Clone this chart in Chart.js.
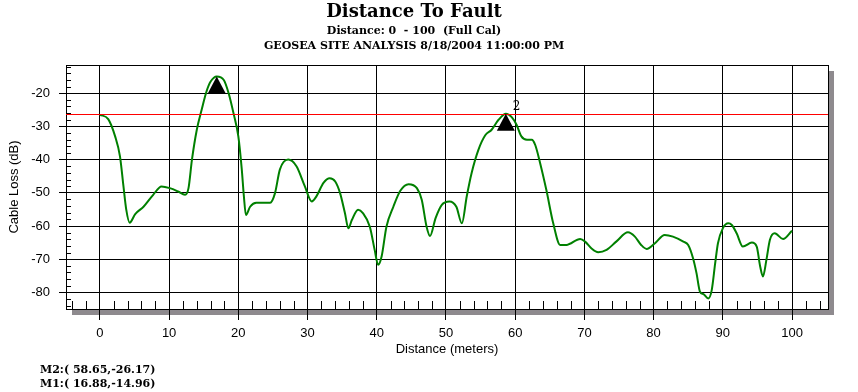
<!DOCTYPE html>
<html>
<head>
<meta charset="utf-8">
<title>Distance To Fault</title>
<script src="https://cdn.jsdelivr.net/npm/chart.js@4.4.1/dist/chart.umd.min.js"></script>
<style>
  html, body { margin: 0; padding: 0; background: #fff; }
  canvas { display: block; }
</style>
</head>
<body>
<canvas id="dtf" width="858" height="392"></canvas>
<script>
// trace (distance in m, loss in dB)
var distance = [0, 1.2, 2.2, 2.9, 3.4, 3.8, 4.3, 5.1, 6.3, 7.7, 8.9, 10.1, 11.3, 12.3, 12.8, 13.3, 14.0, 14.7, 15.4, 16.0, 16.88, 17.9, 18.6, 19.3, 20.0, 20.5, 20.8, 21.1, 21.7, 22.6, 24.6, 25.3, 26.0, 27.2, 28.4, 29.6, 30.6, 31.3, 32.3, 33.2, 34.0, 34.7, 35.4, 35.9, 36.4, 37.3, 38.0, 39.0, 39.7, 40.2, 40.7, 41.4, 42.4, 43.4, 44.6, 45.8, 46.5, 47.2, 47.7, 48.5, 49.4, 50.5, 51.5, 52.3, 53.0, 53.7, 54.7, 55.7, 56.6, 57.6, 58.65, 59.5, 60.2, 60.9, 61.7, 62.4, 62.9, 63.6, 64.5, 65.5, 66.5, 67.4, 69.4, 70.1, 71.0, 72.0, 73.2, 74.6, 76.3, 77.3, 78.2, 79.0, 80.2, 81.6, 82.8, 84.3, 85.0, 85.7, 86.2, 86.7, 87.2, 87.9, 88.4, 88.9, 89.3, 90.0, 90.8, 91.3, 92.0, 92.9, 94.2, 94.9, 95.4, 95.8, 96.3, 96.8, 97.5, 98.7, 100];
var cableLoss = [-26.5, -27.8, -33, -39, -48, -55, -59, -56.4, -54.2, -50.6, -48.1, -48.6, -49.6, -50.6, -48.6, -40, -31, -25, -19.5, -16.5, -14.96, -16, -20, -26, -33, -43, -51, -56.7, -54.2, -53, -53, -50.1, -43, -40, -42, -48, -52.6, -51, -47, -45.6, -46.6, -50.1, -56.1, -60.7, -58.2, -55.1, -56.1, -60.2, -67.2, -71.7, -69.2, -60.2, -54.2, -49.4, -47.4, -48.6, -52.1, -60.2, -63, -57.6, -53.6, -52.6, -54.2, -59.2, -51.1, -44.1, -37, -32.6, -31, -28, -26.17, -27.2, -29.5, -33, -34, -34, -35.6, -41, -49.1, -59.2, -65.7, -65.7, -63.9, -64.7, -66.7, -67.9, -67.2, -64.7, -61.9, -63.2, -65.7, -66.9, -65.2, -62.7, -63.2, -64.7, -65.7, -69.7, -74.2, -79.8, -80.5, -81.8, -79.3, -71.2, -65.2, -60.7, -59.2, -59.7, -62.2, -66.2, -65, -66.2, -72.2, -75.2, -70.2, -64.2, -62.2, -63.9, -61.4];

var xTicks = [0, 10, 20, 30, 40, 50, 60, 70, 80, 90, 100];
var yTicks = [-80, -70, -60, -50, -40, -30, -20];

var markerNames = ['M1', 'M2'];
var markerTags = ['', '2'];
var markerDist = [16.88, 58.65];
var markerLoss = [-14.96, -26.17];
var refLevel = -26.17;

var X_MIN = -4.9, X_MAX = 105.2;
var Y_MIN = -85, Y_MAX = -11.5;

var serif = "'DejaVu Serif', 'Liberation Serif', serif";
var sans = "'Liberation Sans', Arial, sans-serif";

var trace = distance.map(function (d, i) { return { x: d, y: cableLoss[i] }; });

function crisp(v) { return Math.round(v) + 0.5; }

// shadow, frame, minor ticks, reference line and markers
var screenPlugin = {
  id: 'screen',
  beforeDraw: function (chart) {
    var a = chart.chartArea, ctx = chart.ctx;
    ctx.save();
    ctx.fillStyle = '#8e8a8e';
    ctx.fillRect(a.right + 1, a.top + 6, 5, a.bottom - a.top);
    ctx.fillRect(a.left + 6, a.bottom + 1, a.right - a.left, 5);
    ctx.restore();
  },
  afterDatasetsDraw: function (chart) {
    var a = chart.chartArea, ctx = chart.ctx;
    var xs = chart.scales.x, ys = chart.scales.y;
    ctx.save();
    ctx.strokeStyle = '#000';
    ctx.lineWidth = 1;
    ctx.beginPath();
    for (var d = -4; d <= 104; d += 2) {
      if (d % 10 === 0) continue;
      var px = crisp(xs.getPixelForValue(d));
      ctx.moveTo(px, a.bottom);
      ctx.lineTo(px, a.bottom - 8);
    }
    for (var l = -84; l <= -12; l += 2) {
      if (l % 10 === 0) continue;
      var py = crisp(ys.getPixelForValue(l));
      ctx.moveTo(a.left, py);
      ctx.lineTo(a.left + 5, py);
    }
    ctx.stroke();
    ctx.strokeRect(crisp(a.left), crisp(a.top), Math.round(a.right - a.left), Math.round(a.bottom - a.top));

    // reference level
    var ry = crisp(ys.getPixelForValue(refLevel));
    ctx.strokeStyle = '#ff0000';
    ctx.beginPath();
    ctx.moveTo(a.left, ry);
    ctx.lineTo(a.right, ry);
    ctx.stroke();

    // markers
    ctx.fillStyle = '#000';
    ctx.font = '12px ' + serif;
    ctx.textBaseline = 'middle';
    for (var i = 0; i < markerDist.length; i++) {
      var mx = xs.getPixelForValue(markerDist[i]);
      var my = ys.getPixelForValue(markerLoss[i]);
      ctx.beginPath();
      ctx.moveTo(mx, my);
      ctx.lineTo(mx + 9, my + 17);
      ctx.lineTo(mx - 9, my + 17);
      ctx.closePath();
      ctx.fill();
      if (markerTags[i]) ctx.fillText(markerTags[i], mx + 7, my - 7);
    }

    // marker readout, bottom left
    ctx.font = 'bold 11px ' + serif;
    ctx.textAlign = 'left';
    var row = 0;
    for (var j = markerDist.length - 1; j >= 0; j--) {
      var txt = markerNames[j] + ':( ' + markerDist[j].toFixed(2) + ',' + markerLoss[j].toFixed(2) + ')';
      ctx.fillText(txt, 40, 370 + row * 14);
      row++;
    }
    ctx.restore();
  }
};

new Chart(document.getElementById('dtf'), {
  type: 'line',
  data: {
    datasets: [{
      label: 'Cable Loss',
      data: trace,
      borderColor: '#008000',
      borderWidth: 2,
      pointRadius: 0,
      cubicInterpolationMode: 'monotone'
    }]
  },
  options: {
    responsive: false,
    animation: false,
    devicePixelRatio: 1,
    layout: { padding: { left: 0, right: 30, top: 0, bottom: 0 } },
    plugins: {
      legend: { display: false },
      tooltip: { enabled: false },
      title: {
        display: true,
        text: 'Distance To Fault',
        color: '#000',
        font: { family: serif, size: 18, weight: 'bold', lineHeight: 24 / 18 },
        padding: { top: 0, bottom: 0 }
      },
      subtitle: {
        display: true,
        text: ['Distance: 0  - 100  (Full Cal)', 'GEOSEA SITE ANALYSIS 8/18/2004 11:00:00 PM'],
        color: '#000',
        font: { family: serif, size: 11, weight: 'bold', lineHeight: 15 / 11 },
        padding: { top: 0, bottom: 11 }
      }
    },
    scales: {
      x: {
        type: 'linear',
        min: X_MIN,
        max: X_MAX,
        afterBuildTicks: function (s) { s.ticks = xTicks.map(function (v) { return { value: v }; }); },
        afterFit: function (s) { s.height = 83; },
        grid: { color: '#000', lineWidth: 1, tickLength: 11 },
        border: { color: '#000' },
        ticks: { color: '#000', font: { family: sans, size: 13 }, padding: 6, maxRotation: 0, autoSkip: false },
        title: {
          display: true,
          text: 'Distance (meters)',
          color: '#000',
          font: { family: sans, size: 13 },
          padding: { top: 0, bottom: 35 }
        }
      },
      y: {
        min: Y_MIN,
        max: Y_MAX,
        afterBuildTicks: function (s) { s.ticks = yTicks.map(function (v) { return { value: v }; }); },
        afterFit: function (s) { s.width = 66; },
        grid: { color: '#000', lineWidth: 1, tickLength: 7 },
        border: { color: '#000' },
        ticks: { color: '#000', font: { family: sans, size: 13 }, padding: 9 },
        title: {
          display: true,
          text: 'Cable Loss (dB)',
          color: '#000',
          font: { family: sans, size: 13 },
          padding: { top: 7, bottom: 0 }
        }
      }
    }
  },
  plugins: [screenPlugin]
});
</script>
</body>
</html>
